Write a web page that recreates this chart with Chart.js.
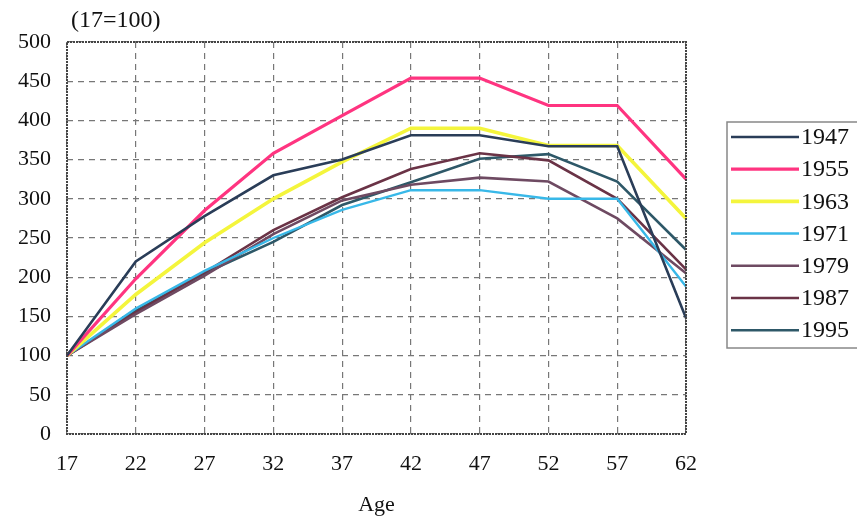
<!DOCTYPE html>
<html><head><meta charset="utf-8">
<script src="https://cdn.jsdelivr.net/npm/chart.js@4.4.1/dist/chart.umd.min.js"></script>
<style>html,body{margin:0;padding:0;background:#fff;}#wrap{width:857px;height:518px;position:relative;}</style>
</head><body><div id="wrap"><canvas id="c" width="857" height="518"></canvas></div>
<script>
const ages = ['17','22','27','32','37','42','47','52','57','62'];
const yTicks = [0,50,100,150,200,250,300,350,400,450,500];
const s1947 = [100,220,278,330,350,381,381,367,367,148];
const s1955 = [100,198,285,358,406,454,454,419,419,325];
const s1963 = [100,178,244,300,347,390,390,368,368,275];
const s1971 = [100,160,208,250,286,311,311,300,300,188];
const s1979 = [100,153,202,255,298,318,327,322,275,205];
const s1987 = [100,155,206,260,302,338,358,349,300,210];
const s1995 = [100,157,205,245,292,321,351,357,322,235];
const seriesNames = ['1947','1955','1963','1971','1979','1987','1995'];
const seriesData = [s1947,s1955,s1963,s1971,s1979,s1987,s1995];
const colors = ['#2a3d58','#ff3480','#f4f53c','#38b8e8','#6e4a62','#6a3346','#2e5868'];
const widths = [2.6,3.2,3.6,2.4,2.6,2.6,2.6];
const FONT = '"Liberation Serif", "DejaVu Serif", serif';

const datasets = seriesNames.map((n,i)=>({
  label:n, data:seriesData[i], borderColor:colors[i], backgroundColor:colors[i],
  borderWidth:widths[i], pointRadius:0, tension:0, fill:false
}));

const extras = {
  id:'extras',
  afterDraw(chart){
    const ctx = chart.ctx, a = chart.chartArea;
    ctx.save();
    ctx.strokeStyle = '#444'; ctx.lineWidth = 2; ctx.setLineDash([2,1]);
    ctx.strokeRect(a.left, a.top, a.right-a.left, a.bottom-a.top);
    ctx.setLineDash([]);
    ctx.fillStyle = '#111'; ctx.font = '24px '+FONT; ctx.textBaseline='middle'; ctx.textAlign='left';
    ctx.fillText('(17=100)', 71, 21);
    const lx = 727, ly = 122, lw = 140, lh = 226;
    ctx.strokeStyle = '#888'; ctx.lineWidth = 1.5;
    ctx.strokeRect(lx, ly, lw, lh);
    seriesNames.forEach((n,i)=>{
      const y = 137 + i*32.2;
      ctx.strokeStyle = colors[i]; ctx.lineWidth = Math.max(2.5, widths[i]);
      ctx.beginPath(); ctx.moveTo(731, y); ctx.lineTo(799, y); ctx.stroke();
      ctx.fillStyle = '#111'; ctx.font = '24px '+FONT; ctx.textAlign='left'; ctx.textBaseline='middle';
      ctx.fillText(n, 801, y+1);
    });
    ctx.restore();
  }
};

new Chart(document.getElementById('c'), {
  type:'line',
  data:{labels:ages, datasets},
  options:{
    responsive:false, animation:false, devicePixelRatio:1,
    layout:{padding:{left:0, right:171, top:42, bottom:0}},
    plugins:{legend:{display:false}, tooltip:{enabled:false}},
    scales:{
      x:{
        type:'category', offset:false,
        grid:{color:'#777', lineWidth:1.2, drawTicks:false, tickLength:0},
        border:{display:false, dash:[6,5]},
        ticks:{color:'#111', font:{family:FONT, size:22}, padding:17, maxRotation:0, autoSkip:false},
        title:{display:true, text:'Age', color:'#111', font:{family:FONT, size:22}, padding:{top:8,bottom:0}},
        afterFit(s){ s.height = 84; }
      },
      y:{
        min:0, max:500,
        afterBuildTicks(s){ s.ticks = yTicks.map(v=>({value:v})); },
        grid:{color:'#777', lineWidth:1.2, drawTicks:false, tickLength:0},
        border:{display:false, dash:[6,5]},
        ticks:{color:'#111', font:{family:FONT, size:22}, padding:16},
        afterFit(s){ s.width = 67; }
      }
    }
  },
  plugins:[extras]
});
</script></body></html>
